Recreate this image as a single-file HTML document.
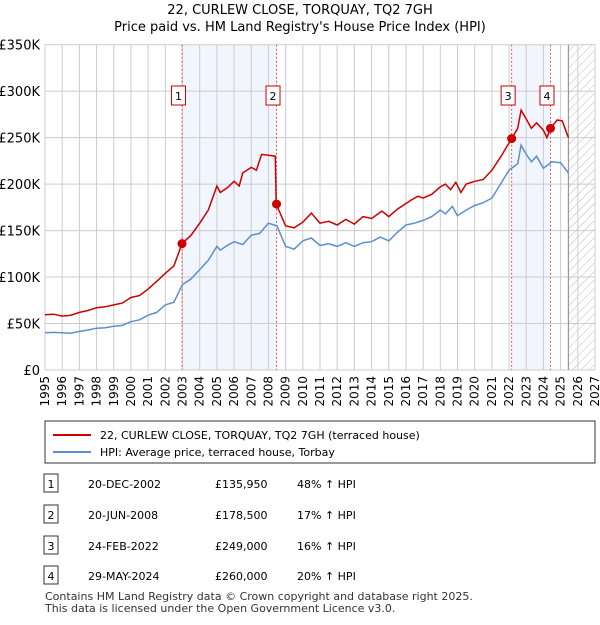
<!DOCTYPE html>
<html><head><meta charset="utf-8"><style>
body{margin:0;background:#fff;font-family:"Liberation Sans","DejaVu Sans",sans-serif;}
svg text{font-family:"DejaVu Sans","Liberation Sans",sans-serif;}
</style></head><body>
<svg width="600" height="620" xmlns="http://www.w3.org/2000/svg" id="chart">
<defs><pattern id="hatch" width="6" height="6" patternUnits="userSpaceOnUse" patternTransform="rotate(45)"><line x1="0" y1="0" x2="0" y2="6" stroke="#bbb" stroke-width="1"/></pattern></defs>
<text x="300" y="14" text-anchor="middle" font-size="13">22, CURLEW CLOSE, TORQUAY, TQ2 7GH</text>
<text x="300" y="31" text-anchor="middle" font-size="13">Price paid vs. HM Land Registry's House Price Index (HPI)</text>
<g id="plot"></g>
<g id="legend">
<rect x="45" y="421" width="550" height="42" fill="#fff" stroke="#333" stroke-width="1"/>
<line x1="53" y1="435" x2="91" y2="435" stroke="#cc0000" stroke-width="2"/>
<text x="100" y="439" font-size="11">22, CURLEW CLOSE, TORQUAY, TQ2 7GH (terraced house)</text>
<line x1="53" y1="452" x2="91" y2="452" stroke="#5b8fd0" stroke-width="2"/>
<text x="100" y="456" font-size="11">HPI: Average price, terraced house, Torbay</text>
</g>
<g id="table"></g>
<text x="45" y="600" font-size="11" fill="#333">Contains HM Land Registry data © Crown copyright and database right 2025.</text>
<text x="45" y="612" font-size="11" fill="#333">This data is licensed under the Open Government Licence v3.0.</text>
</svg>
<script>
const hpiYears=[1995,1995.5,1996,1996.5,1997,1997.5,1998,1998.5,1999,1999.5,2000,2000.5,2001,2001.5,2002,2002.5,2003,2003.5,2004,2004.5,2005,2005.2,2005.6,2006,2006.5,2007,2007.5,2008,2008.5,2009,2009.5,2010,2010.5,2011,2011.5,2012,2012.5,2013,2013.5,2014,2014.5,2015,2015.5,2016,2016.5,2017,2017.5,2018,2018.3,2018.7,2019,2019.5,2020,2020.5,2021,2021.5,2022,2022.5,2022.7,2023,2023.3,2023.6,2024,2024.5,2025,2025.45];
const hpiValues=[40000,40500,40000,39500,41500,43000,45000,45500,47000,48000,52000,54000,59000,62000,70000,73000,92000,98000,108000,118000,133000,129000,134000,138000,135000,145000,147000,158000,155000,133000,130000,139000,142000,134000,136000,133000,137000,133000,137000,138000,143000,139000,148000,156000,158000,161000,165000,172000,168000,176000,166000,172000,177000,180000,185000,200000,215000,222000,242000,232000,224000,230000,217000,224000,223000,212000];
const priceYears=[1995,1995.5,1996,1996.5,1997,1997.5,1998,1998.5,1999,1999.5,2000,2000.5,2001,2001.6,2002,2002.5,2002.97,2003.5,2004,2004.5,2005,2005.2,2005.6,2006,2006.3,2006.5,2007,2007.3,2007.6,2008,2008.4,2008.45,2009,2009.5,2010,2010.5,2011,2011.5,2012,2012.5,2013,2013.5,2014,2014.6,2015,2015.5,2016.3,2016.7,2017,2017.5,2018,2018.3,2018.6,2018.9,2019.2,2019.5,2020,2020.5,2021,2021.5,2022.15,2022.5,2022.7,2023,2023.3,2023.6,2024,2024.2,2024.41,2024.8,2025.1,2025.45];
const priceValues=[59500,60000,58000,59000,62000,64000,67000,68000,70000,72000,78000,80000,87000,97000,104000,112000,135950,145000,158000,172000,198000,191000,196000,203000,198000,212000,218000,215000,232000,231000,230000,178500,155000,153000,159000,168800,158000,160000,156000,162000,157000,165000,163000,171000,165000,173000,182800,187000,185000,189000,197000,200000,194000,202000,191000,200000,203000,205000,215000,229000,249000,260000,279600,270000,260000,266000,258000,250000,260000,269000,268000,250000];
const saleLabels=["1","2","3","4"];
const saleYears=[2002.97,2008.47,2022.15,2024.41];
const salePrices=[135950,178500,249000,260000];
const saleDates=["20-DEC-2002","20-JUN-2008","24-FEB-2022","29-MAY-2024"];
const salePriceText=["£135,950","£178,500","£249,000","£260,000"];
const saleHpiText=["48% ↑ HPI","17% ↑ HPI","16% ↑ HPI","20% ↑ HPI"];
const yTicks=[0,50000,100000,150000,200000,250000,300000,350000];
const yTickLabels=["£0","£50K","£100K","£150K","£200K","£250K","£300K","£350K"];

const NS="http://www.w3.org/2000/svg";
const X0=45,X1=595,Y0=370,Y1=44.7,YR0=1995,YR1=2027,VMAX=350000;
const xs=y=>X0+(y-YR0)/(YR1-YR0)*(X1-X0);
const ys=v=>Y0-v/VMAX*(Y0-Y1);
const plot=document.getElementById('plot');
function mk(tag,attrs,parent){const e=document.createElementNS(NS,tag);for(const k in attrs)e.setAttribute(k,attrs[k]);(parent||plot).appendChild(e);return e;}
let s=mk('rect',{x:xs(2003),y:Y1,width:xs(2008.47)-xs(2003),height:Y0-Y1,fill:'#eef3fc',opacity:0.8});


s=mk('rect',{x:xs(2022.15),y:Y1,width:xs(2024.41)-xs(2022.15),height:Y0-Y1,fill:'#eef3fc',opacity:0.8});


const hx=xs(2025.45);
s=mk('rect',{x:hx,y:Y1,width:X1-hx,height:Y0-Y1,fill:'url(#hatch)'});


for(let yr=1995;yr<=2027;yr++){
 const l=mk('line',{x1:xs(yr),x2:xs(yr),y1:Y1,y2:Y0,stroke:'#ccc','stroke-width':1});
 
 
 const t=mk('text',{x:0,y:0,'font-size':12,'text-anchor':'end',transform:`translate(${xs(yr)+4},${Y0+6}) rotate(-90)`});
 t.textContent=yr;
 
 
}
yTicks.forEach((v,i)=>{
 const l=mk('line',{x1:X0,x2:X1,y1:ys(v),y2:ys(v),stroke:'#ccc','stroke-width':1});
 
 
 const t=mk('text',{x:40,y:ys(v)+5,'font-size':13,'text-anchor':'end'});
 t.textContent=yTickLabels[i];
 
 
});
let b=mk('line',{x1:hx,x2:hx,y1:Y1,y2:Y0,stroke:'#888','stroke-width':1});


saleYears.forEach((yr,i)=>{
 const l=mk('line',{x1:xs(yr),x2:xs(yr),y1:Y1,y2:Y0,stroke:'#ee5555','stroke-width':1,'stroke-dasharray':'2,2'});
 
 
});
function line(xa,va,color,name){
 const d=xa.map((y,i)=>(i?'L':'M')+xs(y).toFixed(1)+','+ys(va[i]).toFixed(1)).join('');
 const p=mk('path',{d:d,fill:'none',stroke:color,'stroke-width':1.5});
 
 
}
line(hpiYears,hpiValues,'#5b8fd0','hpi-line');
line(priceYears,priceValues,'#cc0000','price-paid-line');
saleYears.forEach((yr,i)=>{
 const c=mk('circle',{cx:xs(yr),cy:ys(salePrices[i]),r:4.5,fill:'#cc0000'});
 
 
 const r=mk('rect',{x:xs(yr)-10.5,y:86,width:14,height:19,fill:'#fff',stroke:'#cc0000'});
 
 
 const t=mk('text',{x:xs(yr)-3.5,y:100,'font-size':11,'text-anchor':'middle'});
 t.textContent=saleLabels[i];
 
 
});
const tbl=document.getElementById('table');
const rowY=[484,515,546,576];
saleLabels.forEach((lab,i)=>{
 const y=rowY[i];
 const r=mk('rect',{x:44,y:y-10,width:14,height:18,fill:'#fff',stroke:'#333'},tbl);
 
 
 const cells=[[51,lab,'middle'],[88,saleDates[i],'start'],[215,salePriceText[i],'start'],[297,saleHpiText[i],'start']];
 cells.forEach(c=>{
  const t=mk('text',{x:c[0],y:y+4,'font-size':11,'text-anchor':c[2]},tbl);
  t.textContent=c[1];
  
  
 });
});
</script>
</body></html>
